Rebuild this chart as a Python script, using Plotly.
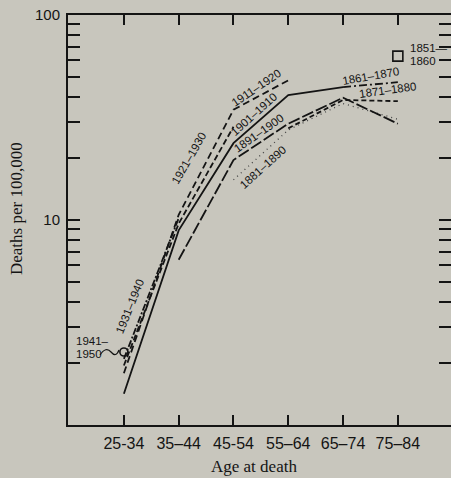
import plotly.graph_objects as go

ages = ["25-34", "35–44", "45-54", "55–64", "65–74", "75–84"]

c1851_1860 = [None, None, None, None, None, 63]
c1861_1870 = [None, None, None, None, 44.5, 47]
c1871_1880 = [None, None, None, 28, 38.5, 38]
c1881_1890 = [None, None, 15.7, 27.5, 37, 31]
c1891_1900 = [None, 6.4, 19.6, 29.5, 39.5, 29.5]
c1901_1910 = [1.42, 8.9, 23.7, 40.7, 44.5, None]
c1911_1920 = [1.79, 10.6, 34.5, 48, None, None]
c1921_1930 = [1.95, 9.6, 28.5, None, None, None]
c1931_1940 = [2.1, 10.2, None, None, None, None]
c1941_1950 = [2.27, None, None, None, None, None]

yticks = [1, 2, 3, 4, 5, 6, 7, 8, 9, 10, 20, 30, 40, 50, 60, 70, 80, 90, 100]
yticktext = ["", "", "", "", "", "", "", "", "", "10", "", "", "", "", "", "", "", "", "100"]

BG = "#c8c6bd"
INK = "#141414"

fig = go.Figure()

def add_line(vals, dash, width=1.8, color=INK):
    fig.add_trace(go.Scatter(x=ages, y=vals, mode="lines",
                             line=dict(color=color, width=width, dash=dash),
                             connectgaps=False, showlegend=False, hoverinfo="skip"))

add_line(c1861_1870, "8px,3px,2px,3px")
add_line(c1871_1880, "5px,3px")
add_line(c1881_1890, "1px,4px", width=1.3, color="#444")
add_line(c1891_1900, "12px,3px")
add_line(c1901_1910, "solid")
add_line(c1911_1920, "7px,4px")
add_line(c1921_1930, "6px,3px")
add_line(c1931_1940, "7px,2px,2px,2px")

fig.add_trace(go.Scatter(x=ages, y=c1941_1950, mode="markers",
                         marker=dict(symbol="circle-open", size=8, color=INK, line=dict(width=1.6)),
                         showlegend=False, hoverinfo="skip"))
fig.add_trace(go.Scatter(x=ages, y=c1851_1860, mode="markers",
                         marker=dict(symbol="square-open", size=10, color=INK, line=dict(width=1.6)),
                         showlegend=False, hoverinfo="skip"))

L, R, T, B = 68, 451, 15, 425
W, H = R - L, B - T

def px(x):
    return (x - L) / W

def py(y):
    return (B - y) / H

SANS = "Liberation Sans, Arial, sans-serif"
SERIF = "Liberation Serif, Times New Roman, serif"
lab_font = dict(family=SANS, size=11.5, color=INK)

labels = [
    ("1931–1940", 130, 306, -68),
    ("1921–1930", 189, 158, -60),
    ("1911–1920", 256, 88, -34),
    ("1901–1910", 254, 114, -42),
    ("1891–1900", 259, 133, -35),
    ("1881–1890", 263, 167, -42),
    ("1861–1870", 371, 76, -10),
    ("1871–1880", 388, 90, -8),
]
for text, x, y, ang in labels:
    fig.add_annotation(text=text, x=px(x), y=py(y), xref="paper", yref="paper",
                       showarrow=False, textangle=ang, font=lab_font,
                       xanchor="center", yanchor="middle")

for text, x, y in [("1851—", 408, 48), ("1860", 408, 61), ("1941–", 74, 341), ("1950", 74, 354)]:
    fig.add_annotation(text=text, x=px(x), y=py(y), xref="paper", yref="paper",
                       showarrow=False, font=lab_font, xanchor="left", yanchor="middle")

# squiggle leader for 1941-1950
path = "M {} {} Q {} {} {} {} T {} {}".format(
    px(100), py(355), px(106), py(346), px(111), py(352), px(119), py(350))
fig.add_shape(type="path", path=path, xref="paper", yref="paper",
              line=dict(color=INK, width=1.2))

# axis titles
fig.add_annotation(text="Age at death", x=px(254), y=py(466), xref="paper", yref="paper",
                   xanchor="center", yanchor="middle",
                   showarrow=False, font=dict(family=SERIF, size=17, color=INK))
fig.add_annotation(text="Deaths per 100,000", x=px(16), y=py(208), xref="paper", yref="paper",
                   xanchor="center", yanchor="middle",
                   showarrow=False, textangle=-90,
                   font=dict(family=SERIF, size=17, color=INK))

fig.update_layout(
    width=451, height=478,
    margin=dict(l=L, r=0, t=T, b=478 - B, autoexpand=False),
    paper_bgcolor=BG, plot_bgcolor=BG,
    xaxis=dict(type="category", categoryorder="array", categoryarray=ages,
               range=[-1.02, 5.97], showgrid=False, zeroline=False, automargin=False,
               showline=True, linecolor=INK, linewidth=2, mirror="ticks",
               ticks="inside", ticklen=10, tickwidth=1.5, tickcolor=INK,
               ticklabelstandoff=3,
               tickfont=dict(family=SANS, size=16, color=INK)),
    yaxis=dict(type="log", range=[0, 2], showgrid=False, zeroline=False, automargin=False,
               showline=True, linecolor=INK, linewidth=2,
               ticks="inside", ticklen=12, tickwidth=1.5, tickcolor=INK,
               tickvals=yticks, ticktext=yticktext, ticklabelstandoff=3,
               tickfont=dict(family=SANS, size=15, color=INK)),
    yaxis2=dict(type="log", range=[0, 2], overlaying="y", side="right", showgrid=False,
                zeroline=False, showline=False, automargin=False,
                ticks="inside", ticklen=12, tickwidth=1.5,
                tickcolor=INK, tickvals=yticks, showticklabels=False),
)
# invisible trace to activate yaxis2
fig.add_trace(go.Scatter(x=[ages[0]], y=[1], yaxis="y2", mode="markers",
                         marker=dict(size=0.1, color=BG, opacity=0), showlegend=False, hoverinfo="skip"))

fig.write_html("out.html", config={"displayModeBar": False},
               post_script="document.body.style.margin='0';document.body.style.background='%s';" % BG)
